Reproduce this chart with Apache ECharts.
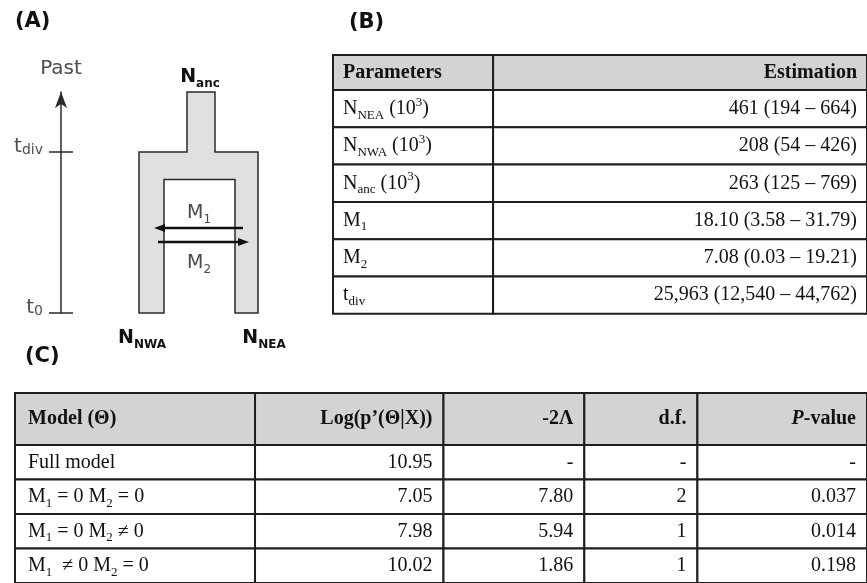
<!DOCTYPE html>
<html>
<head>
<meta charset="utf-8">
<script src="https://cdn.jsdelivr.net/npm/echarts@6/dist/echarts.min.js"></script>
<style>
  html, body { margin: 0; padding: 0; background: #fff; }
  #main { width: 867px; height: 583px; }
</style>
</head>
<body>
<div id="main"></div>
<script>
// (A) isolation-with-migration model, time axis ticks
const timeTicks = [0, 1];            // t0, tdiv
const timeSubs = ['0', 'div'];

// (B) parameter estimates
const paramHeaders = ['Parameters', 'Estimation'];
const paramNames = [
  'N{sub|NEA} (10{sup|3})',
  'N{sub|NWA} (10{sup|3})',
  'N{sub|anc} (10{sup|3})',
  'M{sub|1}',
  'M{sub|2}',
  't{sub|div}'
];
const paramEstimates = [
  '461 (194 – 664)',
  '208 (54 – 426)',
  '263 (125 – 769)',
  '18.10 (3.58 – 31.79)',
  '7.08 (0.03 – 19.21)',
  '25,963 (12,540 – 44,762)'
];

// (C) model comparison
const modelHeaders = ['Model (Θ)', 'Log(p’(Θ|X))', '-2Λ', 'd.f.', '{it|P}-value'];
const modelNames = [
  'Full model',
  'M{sub|1} = 0 M{sub|2} = 0',
  'M{sub|1} = 0 M{sub|2} ≠ 0',
  'M{sub|1}  ≠ 0 M{sub|2} = 0'
];
const logLik = ['10.95', '7.05', '7.98', '10.02'];
const minus2Lambda = ['-', '7.80', '5.94', '1.86'];
const degFree = ['-', '2', '1', '1'];
const pValues = ['-', '0.037', '0.014', '0.198'];

// layout (pixel units inside each grid)
const shape = { stem: [126, 154], outer: [78, 197], inner: [103, 174], top: 1.373, innerTop: 0.83 };
const tabB = { cols: [0, 161, 537], rows: [0, 35, 72.3, 109.6, 146.9, 184.2, 221.5, 258.8] };
const tabC = { cols: [0, 242, 432, 574, 688, 859], rows: [0, 52, 86.5, 121, 155.5, 190] };

const SERIF = 'Liberation Serif';
const SANS = 'DejaVu Sans';
const INK = '#111';

function richSet(family, size, weight, color) {
  const small = Math.round(size * 0.65);
  return {
    sub: { fontFamily: family, fontSize: small, fontWeight: weight, fill: color, verticalAlign: 'bottom', lineHeight: 12 },
    sup: { fontFamily: family, fontSize: small, fontWeight: weight, fill: color, verticalAlign: 'top', lineHeight: 22 },
    it: { fontFamily: family, fontSize: size, fontWeight: 'bold', fontStyle: 'italic', fill: color, lineHeight: size + 6 }
  };
}

function buildCells(headers, columns) {
  const cells = [];
  headers.forEach((h, c) => cells.push({ c: c, r: 0, text: h, head: true, align: c === 0 ? 'left' : 'right' }));
  columns[0].forEach((_, i) => {
    columns.forEach((col, c) => {
      cells.push({ c: c, r: i + 1, text: col[i], head: false, align: c === 0 ? 'left' : 'right' });
    });
  });
  return cells;
}

const cellsB = buildCells(paramHeaders, [paramNames, paramEstimates]);
const cellsC = buildCells(modelHeaders, [modelNames, logLik, minus2Lambda, degFree, pValues]);

function tableRenderer(cells, lay, padL, padR) {
  return function (params, api) {
    const cell = cells[params.dataIndex];
    const p0 = api.coord([lay.cols[cell.c], lay.rows[cell.r]]);
    const p1 = api.coord([lay.cols[cell.c + 1], lay.rows[cell.r + 1]]);
    const x = p0[0], y = p0[1], w = p1[0] - p0[0], h = p1[1] - p0[1];
    const weight = cell.head ? 'bold' : 'normal';
    return {
      type: 'group',
      children: [
        {
          type: 'rect',
          shape: { x: x, y: y, width: w, height: h },
          style: { fill: cell.head ? '#d3d3d3' : '#fff', stroke: '#1e1e1e', lineWidth: 2 }
        },
        {
          type: 'text',
          x: cell.align === 'left' ? x + padL : x + w - padR,
          y: y + h / 2,
          style: {
            text: cell.text,
            align: cell.align,
            verticalAlign: 'middle',
            fontFamily: SERIF,
            fontSize: 20,
            fontWeight: weight,
            lineHeight: 26,
            fill: INK,
            rich: richSet(SERIF, 20, weight, INK)
          }
        }
      ]
    };
  };
}

function renderDiagram(params, api) {
  const P = (x, t) => api.coord([x, t]);
  const s = shape;
  const t0 = timeTicks[0], tDiv = timeTicks[1];
  const outline = [
    P(s.stem[0], s.top), P(s.stem[1], s.top), P(s.stem[1], tDiv), P(s.outer[1], tDiv),
    P(s.outer[1], t0), P(s.inner[1], t0), P(s.inner[1], s.innerTop), P(s.inner[0], s.innerTop),
    P(s.inner[0], t0), P(s.outer[0], t0), P(s.outer[0], tDiv), P(s.stem[0], tDiv)
  ];
  function arrow(xFrom, xTo, t) {
    const a = P(xFrom, t), b = P(xTo, t);
    const dir = Math.sign(b[0] - a[0]);
    const head = 11, hw = 4;
    return [
      { type: 'line', shape: { x1: a[0], y1: a[1], x2: b[0] - dir * head * 0.6, y2: b[1] }, style: { stroke: INK, lineWidth: 2.5 } },
      { type: 'polygon', shape: { points: [b, [b[0] - dir * head, b[1] - hw], [b[0] - dir * head, b[1] + hw]] }, style: { fill: INK } }
    ];
  }
  function label(x, t, text, size, weight, color) {
    const p = P(x, t);
    return {
      type: 'text', x: p[0], y: p[1],
      style: {
        text: text, align: 'center', verticalAlign: 'middle',
        fontFamily: SANS, fontSize: size, fontWeight: weight, fill: color, lineHeight: size + 6,
        rich: richSet(SANS, size, weight, color)
      }
    };
  }
  return {
    type: 'group',
    children: [
      { type: 'polygon', shape: { points: outline }, style: { fill: '#e0e0e0', stroke: '#2a2a2a', lineWidth: 1.5 } }
    ].concat(
      arrow(182, 93, 0.528),
      arrow(97, 188, 0.441),
      [
        label(138, 0.621, 'M{sub|1}', 19, 'normal', '#4a4a4a'),
        label(138, 0.311, 'M{sub|2}', 19, 'normal', '#4a4a4a'),
        label(139, 1.466, 'N{sub|anc}', 19, 'bold', INK),
        label(81, -0.155, 'N{sub|NWA}', 19, 'bold', INK),
        label(203, -0.155, 'N{sub|NEA}', 19, 'bold', INK)
      ]
    )
  };
}

const panelTitle = { fontFamily: SANS, fontWeight: 'bold', fontSize: 21, color: INK };
const tickLine = { color: '#2a2a2a', width: 1.5 };

const option = {
  animation: false,
  backgroundColor: '#fff',
  title: [
    { text: '(A)', left: 15, top: 11, padding: 0, textStyle: panelTitle },
    { text: '(B)', left: 349, top: 12, padding: 0, textStyle: panelTitle },
    { text: '(C)', left: 25, top: 346, padding: 0, textStyle: panelTitle }
  ],
  grid: [
    { left: 61, top: 92, width: 249, height: 221 },
    { left: 333, top: 55, width: 537, height: 258.8 },
    { left: 15, top: 393, width: 859, height: 190 }
  ],
  xAxis: [
    { gridIndex: 0, type: 'value', min: 0, max: 249, show: false },
    { gridIndex: 1, type: 'value', min: 0, max: 537, show: false },
    { gridIndex: 2, type: 'value', min: 0, max: 859, show: false }
  ],
  yAxis: [
    {
      gridIndex: 0, type: 'value', min: 0, max: shape.top, position: 'left',
      name: 'Past', nameLocation: 'end', nameGap: 13,
      nameTextStyle: { fontFamily: SANS, fontSize: 20, color: '#4d4d4d' },
      axisLine: { show: true, symbol: ['none', 'arrow'], symbolSize: [9, 16], lineStyle: tickLine },
      axisTick: { show: true, customValues: timeTicks, length: 12, lineStyle: tickLine },
      axisLabel: {
        customValues: timeTicks, margin: 18, padding: [0, 0, 10, 0],
        fontFamily: SANS, fontSize: 20, color: '#4d4d4d',
        formatter: v => 't{s|' + timeSubs[timeTicks.indexOf(v)] + '}',
        rich: { s: { fontFamily: SANS, fontSize: 14, color: '#4d4d4d', verticalAlign: 'bottom', lineHeight: 12 } }
      },
      splitLine: { show: false }
    },
    {
      gridIndex: 0, type: 'value', min: 0, max: shape.top, position: 'left',
      axisLine: { show: false },
      axisTick: { show: true, inside: true, customValues: timeTicks, length: 12, lineStyle: tickLine },
      axisLabel: { show: false },
      splitLine: { show: false }
    },
    { gridIndex: 1, type: 'value', min: 0, max: 258.8, inverse: true, show: false },
    { gridIndex: 2, type: 'value', min: 0, max: 190, inverse: true, show: false }
  ],
  series: [
    {
      type: 'custom', xAxisIndex: 0, yAxisIndex: 0, silent: true,
      data: [[0, 0]], renderItem: renderDiagram
    },
    {
      type: 'custom', xAxisIndex: 1, yAxisIndex: 2, silent: true,
      data: cellsB.map(c => [c.c, c.r]), renderItem: tableRenderer(cellsB, tabB, 10, 10)
    },
    {
      type: 'custom', xAxisIndex: 2, yAxisIndex: 3, silent: true,
      data: cellsC.map(c => [c.c, c.r]), renderItem: tableRenderer(cellsC, tabC, 13, 11)
    }
  ]
};

const chart = echarts.init(document.getElementById('main'));
chart.setOption(option);
</script>
</body>
</html>
